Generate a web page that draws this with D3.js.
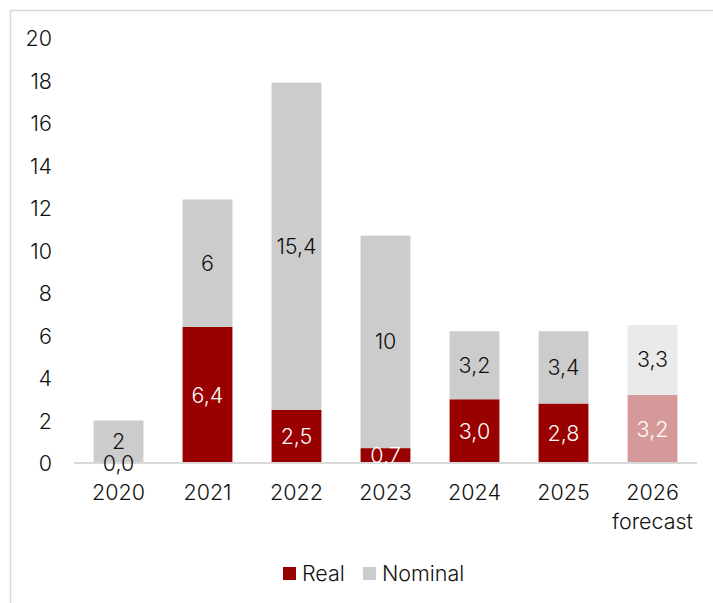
<!DOCTYPE html>
<html>
<head>
<meta charset="utf-8">
<script src="https://cdn.jsdelivr.net/npm/d3@7"></script>
<style>
  html, body { margin: 0; padding: 0; background: #fff; }
  svg { display: block; }
  text { font-family: Inter, Roboto, "Noto Sans", sans-serif; font-weight: 300; }
</style>
</head>
<body>
<svg id="chart" width="713" height="603"></svg>
<script>
// Years on the x axis; the last one is a projection
const years = ["2020", "2021", "2022", "2023", "2024", "2025", "2026"];
const yearSubLabels = ["", "", "", "", "", "", "forecast"];
const isForecast = [false, false, false, false, false, false, true];

// Stacked series (real growth at the bottom, nominal on top)
const realValues = [0.0, 6.4, 2.5, 0.7, 3.0, 2.8, 3.2];
const nominalValues = [2, 6, 15.4, 10, 3.2, 3.4, 3.3];

// Value labels as printed on the segments
const realLabels = ["0,0", "6,4", "2,5", "0,7", "3,0", "2,8", "3,2"];
const nominalLabels = ["2", "6", "15,4", "10", "3,2", "3,4", "3,3"];

const yTicks = [0, 2, 4, 6, 8, 10, 12, 14, 16, 18, 20];
const seriesNames = ["Real", "Nominal"];

const colors = {
  real: "#990000",
  nominal: "#cccccc",
  realForecast: "#d69999",
  nominalForecast: "#eaeaea"
};

const FONT_SIZE = 21.5;
const TEXT_COLOR = "#111111";

const svg = d3.select("#chart");
const W = 713, H = 603;

// Frame lines along top and left edges
svg.append("line").attr("x1", 10).attr("x2", W).attr("y1", 10.5).attr("y2", 10.5)
  .attr("stroke", "#d9d9d9").attr("stroke-width", 1.5);
svg.append("line").attr("x1", 10.5).attr("x2", 10.5).attr("y1", 10).attr("y2", H)
  .attr("stroke", "#d9d9d9").attr("stroke-width", 1.5);

const plot = { left: 74, right: 697, top: 38, bottom: 463 };

const x = d3.scaleBand().domain(years).range([plot.left, plot.right]).paddingInner(0.44).paddingOuter(0.22);
const y = d3.scaleLinear().domain([0, 20]).range([plot.bottom, plot.top]);

// Y axis labels (no axis line, no ticks)
const yAxis = d3.axisLeft(y).tickValues(yTicks).tickSize(0).tickPadding(0).tickFormat(d3.format("d"));
const yg = svg.append("g").attr("transform", "translate(52,0)").call(yAxis);
yg.select(".domain").remove();
yg.selectAll("text").attr("font-size", FONT_SIZE).attr("fill", TEXT_COLOR).attr("dy", "0.35em");

// Stacked bars
const rows = years.map((yr, i) => ({ year: yr, real: realValues[i], nominal: nominalValues[i], i }));
const stack = d3.stack().keys(["real", "nominal"]);
const layers = stack(rows);

layers.forEach(layer => {
  const key = layer.key;
  svg.append("g").selectAll("rect").data(layer).join("rect")
    .attr("x", d => x(d.data.year))
    .attr("width", x.bandwidth())
    .attr("y", d => y(d[1]))
    .attr("height", d => y(d[0]) - y(d[1]))
    .attr("fill", d => isForecast[d.data.i] ? colors[key + "Forecast"] : colors[key]);
});

// X axis baseline
svg.append("line").attr("x1", plot.left).attr("x2", plot.right)
  .attr("y1", y(0)).attr("y2", y(0)).attr("stroke", "#d9d9d9").attr("stroke-width", 2);

// Segment value labels
layers.forEach(layer => {
  const key = layer.key;
  const labels = key === "real" ? realLabels : nominalLabels;
  svg.append("g").selectAll("text").data(layer).join("text")
    .attr("x", d => x(d.data.year) + x.bandwidth() / 2)
    .attr("y", d => y((d[0] + d[1]) / 2))
    .attr("dy", "0.35em")
    .attr("text-anchor", "middle")
    .attr("font-size", FONT_SIZE)
    .attr("fill", d => (key === "real" && d.data.real > 0) ? "#ffffff" : TEXT_COLOR)
    .text(d => labels[d.data.i]);
});

// Category labels
const xAxis = d3.axisBottom(x).tickSize(0).tickPadding(0);
const xg = svg.append("g").attr("transform", `translate(0,${y(0)})`).call(xAxis);
xg.select(".domain").remove();
xg.selectAll("text").remove();
xg.selectAll(".tick").each(function(d, i) {
  const t = d3.select(this).append("text")
    .attr("text-anchor", "middle").attr("font-size", FONT_SIZE).attr("fill", TEXT_COLOR);
  t.append("tspan").attr("x", 0).attr("y", 37).text(d);
  if (yearSubLabels[i]) t.append("tspan").attr("x", 0).attr("y", 66).text(yearSubLabels[i]);
});

// Legend
const legend = svg.append("g").attr("transform", "translate(283,567)");
const legendColors = [colors.real, colors.nominal];
const legendOffsets = [0, 80];
seriesNames.forEach((name, i) => {
  const g = legend.append("g").attr("transform", `translate(${legendOffsets[i]},0)`);
  g.append("rect").attr("width", 13).attr("height", 13).attr("fill", legendColors[i]);
  g.append("text").attr("x", 19).attr("y", 6.5).attr("dy", "0.35em")
    .attr("font-size", FONT_SIZE).attr("fill", TEXT_COLOR).text(name);
});
</script>
</body>
</html>
